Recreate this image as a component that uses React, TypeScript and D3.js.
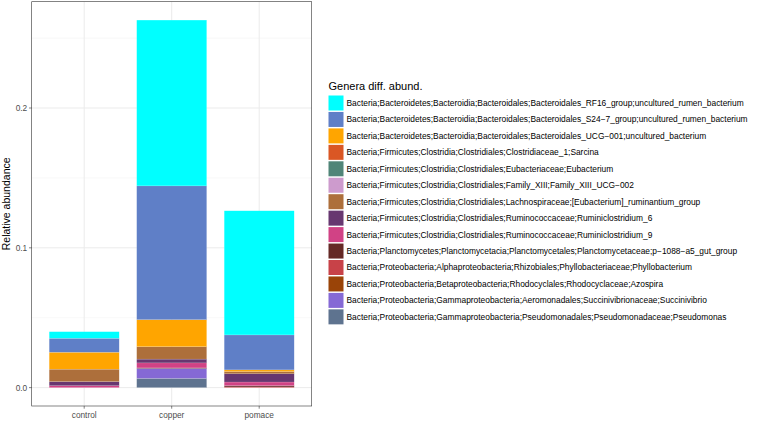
import React from "react";
import * as d3 from "d3";

const samples = ["control", "copper", "pomace"];

const genera = [
  "Bacteria;Bacteroidetes;Bacteroidia;Bacteroidales;Bacteroidales_RF16_group;uncultured_rumen_bacterium",
  "Bacteria;Bacteroidetes;Bacteroidia;Bacteroidales;Bacteroidales_S24\u22127_group;uncultured_rumen_bacterium",
  "Bacteria;Bacteroidetes;Bacteroidia;Bacteroidales;Bacteroidales_UCG\u2212001;uncultured_bacterium",
  "Bacteria;Firmicutes;Clostridia;Clostridiales;Clostridiaceae_1;Sarcina",
  "Bacteria;Firmicutes;Clostridia;Clostridiales;Eubacteriaceae;Eubacterium",
  "Bacteria;Firmicutes;Clostridia;Clostridiales;Family_XIII;Family_XIII_UCG\u2212002",
  "Bacteria;Firmicutes;Clostridia;Clostridiales;Lachnospiraceae;[Eubacterium]_ruminantium_group",
  "Bacteria;Firmicutes;Clostridia;Clostridiales;Ruminococcaceae;Ruminiclostridium_6",
  "Bacteria;Firmicutes;Clostridia;Clostridiales;Ruminococcaceae;Ruminiclostridium_9",
  "Bacteria;Planctomycetes;Planctomycetacia;Planctomycetales;Planctomycetaceae;p\u22121088\u2212a5_gut_group",
  "Bacteria;Proteobacteria;Alphaproteobacteria;Rhizobiales;Phyllobacteriaceae;Phyllobacterium",
  "Bacteria;Proteobacteria;Betaproteobacteria;Rhodocyclales;Rhodocyclaceae;Azospira",
  "Bacteria;Proteobacteria;Gammaproteobacteria;Aeromonadales;Succinivibrionaceae;Succinivibrio",
  "Bacteria;Proteobacteria;Gammaproteobacteria;Pseudomonadales;Pseudomonadaceae;Pseudomonas",
];

const generaColors = [
  "#00FFFF", "#5F7FC7", "#FFA500", "#DA5724", "#508578", "#CD9BCD", "#AD6F3B",
  "#673770", "#D14285", "#652926", "#C84248", "#9A4408", "#8569D5", "#5E738F",
];

// values per sample: control, copper, pomace
const rf16 = [0.0047, 0.1186, 0.0888];
const s247 = [0.0100, 0.0957, 0.0250];
const ucg001 = [0.0121, 0.0193, 0.0012];
const sarcina = [0.0, 0.0, 0.0];
const eubacterium = [0.0, 0.0, 0.0];
const familyXIII = [0.0, 0.0, 0.0];
const lachno = [0.0089, 0.0089, 0.0016];
const rumini6 = [0.0029, 0.0027, 0.0059];
const rumini9 = [0.0014, 0.0036, 0.0026];
const plancto = [0.0, 0.0004, 0.0009];
const phyllo = [0.0, 0.0, 0.0005];
const azospira = [0.0, 0.0, 0.0];
const succinivibrio = [0.0, 0.0071, 0.0];
const pseudomonas = [0.0, 0.0066, 0.0];

const seriesValues = [
  rf16, s247, ucg001, sarcina, eubacterium, familyXIII, lachno,
  rumini6, rumini9, plancto, phyllo, azospira, succinivibrio, pseudomonas,
];

const yTicks = [0, 0.1, 0.2];
const yMinorTicks = [0.05, 0.15, 0.25];

const W = 760;
const H = 421;
const panel = { left: 31.7, right: 311.7, top: 1.7, bottom: 406 };
const FONT = "'Liberation Sans', Arial, Helvetica, sans-serif";

export default function App() {
  // stack: bottom is the last genus, top is the first
  const totals = samples.map((_, j) => d3.sum(seriesValues, (s) => s[j]));
  const maxTotal = d3.max(totals) as number;
  const expand = maxTotal * 0.05;
  const y = d3
    .scaleLinear()
    .domain([-expand, maxTotal + expand])
    .range([panel.bottom, panel.top]);
  const x = d3
    .scaleBand<string>()
    .domain(samples)
    .range([panel.left, panel.right])
    .paddingInner(0.2)
    .paddingOuter(0.2);

  const rects: React.ReactNode[] = [];
  samples.forEach((smp, j) => {
    let cum = 0;
    for (let i = seriesValues.length - 1; i >= 0; i--) {
      const v = seriesValues[i][j];
      if (v <= 0) continue;
      const y0 = y(cum);
      const y1 = y(cum + v);
      rects.push(
        <rect
          key={`${smp}-${i}`}
          x={x(smp)}
          width={x.bandwidth()}
          y={y1}
          height={y0 - y1}
          fill={generaColors[i]}
          stroke="#ffffff"
          strokeOpacity={0.35}
          strokeWidth={0.4}
        />
      );
      cum += v;
    }
  });

  const legendX = 328.5;
  const legendY0 = 95.5;
  const pitch = 16.45;

  return (
    <svg
      width={W}
      height={H}
      style={{ position: "absolute", left: 0, top: 0, background: "#fff" }}
      fontFamily={FONT}
    >
      <rect x={0} y={0} width={W} height={H} fill="#fff" />
      {/* grid */}
      {yMinorTicks.map((t) => (
        <line key={`ym${t}`} x1={panel.left} x2={panel.right} y1={y(t)} y2={y(t)} stroke="#F3F3F3" strokeWidth={0.6} />
      ))}
      {yTicks.map((t) => (
        <line key={`y${t}`} x1={panel.left} x2={panel.right} y1={y(t)} y2={y(t)} stroke="#EBEBEB" strokeWidth={1} />
      ))}
      {samples.map((s) => (
        <line
          key={`xg${s}`}
          x1={(x(s) as number) + x.bandwidth() / 2}
          x2={(x(s) as number) + x.bandwidth() / 2}
          y1={panel.top}
          y2={panel.bottom}
          stroke="#EBEBEB"
          strokeWidth={1}
        />
      ))}
      {rects}
      <rect
        x={panel.left}
        y={panel.top}
        width={panel.right - panel.left}
        height={panel.bottom - panel.top}
        fill="none"
        stroke="#333333"
        strokeWidth={0.6}
      />
      {/* y axis */}
      {yTicks.map((t) => (
        <g key={`yt${t}`}>
          <line x1={panel.left - 2.7} x2={panel.left} y1={y(t)} y2={y(t)} stroke="#333333" strokeWidth={0.6} />
          <text x={panel.left - 4.5} y={y(t)} dy="0.35em" textAnchor="end" fontSize={8.3} fill="#4D4D4D">
            {d3.format(".1f")(t)}
          </text>
        </g>
      ))}
      {/* x axis */}
      {samples.map((s) => {
        const cx = (x(s) as number) + x.bandwidth() / 2;
        return (
          <g key={`xt${s}`}>
            <line x1={cx} x2={cx} y1={panel.bottom} y2={panel.bottom + 2.7} stroke="#333333" strokeWidth={0.6} />
            <text x={cx} y={417.5} textAnchor="middle" fontSize={8.3} fill="#4D4D4D">
              {s}
            </text>
          </g>
        );
      })}
      <text
        transform={`translate(9.5,${(panel.top + panel.bottom) / 2}) rotate(-90)`}
        textAnchor="middle"
        fontSize={10.5}
        fill="#000"
      >
        Relative abundance
      </text>
      {/* legend */}
      <text x={legendX} y={89.5} fontSize={11} fill="#000">
        Genera diff. abund.
      </text>
      {genera.map((g, i) => (
        <g key={`lg${i}`}>
          <rect x={legendX} y={legendY0 + i * pitch} width={15} height={15} fill={generaColors[i]} />
          <text x={346.5} y={legendY0 + i * pitch + 7.5} dy="0.35em" fontSize={8.4} fill="#000">
            {g}
          </text>
        </g>
      ))}
    </svg>
  );
}
